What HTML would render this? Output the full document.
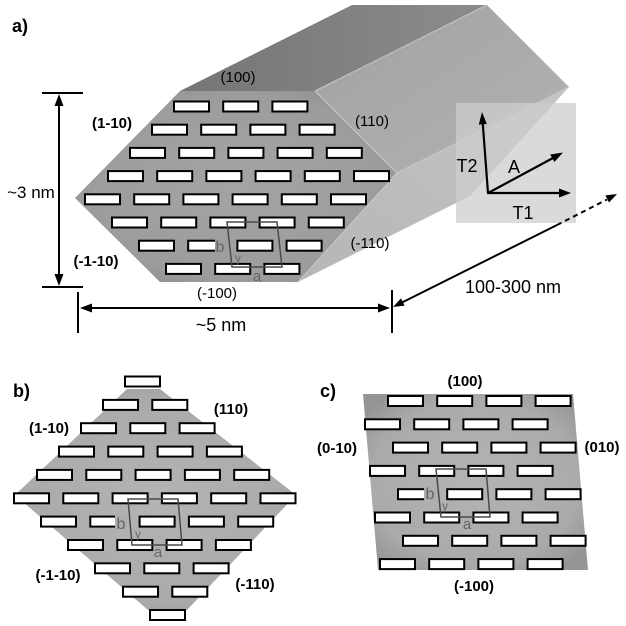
<!DOCTYPE html>
<html>
<head>
<meta charset="utf-8">
<style>
  html, body { margin: 0; padding: 0; background: #fff; }
  svg { display: block; }
  text { font-family: "Liberation Sans", Arial, sans-serif; }
</style>
</head>
<body>
<svg width="626" height="626" viewBox="0 0 626 626" xmlns="http://www.w3.org/2000/svg">
  <defs>
    <rect id="r" x="1" y="1" width="35" height="10" fill="#fff" stroke="#000" stroke-width="2"/>
    <linearGradient id="gTop" x1="0" y1="0" x2="1" y2="0">
      <stop offset="0" stop-color="#757575"/>
      <stop offset="1" stop-color="#8c8c8c"/>
    </linearGradient>
    <linearGradient id="g110" x1="0" y1="0" x2="1" y2="1">
      <stop offset="0" stop-color="#a2a2a2"/>
      <stop offset="1" stop-color="#b2b2b2"/>
    </linearGradient>
    <linearGradient id="gm110" x1="0" y1="1" x2="1" y2="0">
      <stop offset="0" stop-color="#b6b6b6"/>
      <stop offset="1" stop-color="#c4c4c4"/>
    </linearGradient>
    <radialGradient id="gFront" cx="0.5" cy="0.5" r="0.6">
      <stop offset="0" stop-color="#a4a4a4"/>
      <stop offset="0.8" stop-color="#9c9c9c"/>
      <stop offset="1" stop-color="#8e8e8e"/>
    </radialGradient>
    <radialGradient id="gPanel" cx="0.5" cy="0.5" r="0.62">
      <stop offset="0" stop-color="#b4b4b4"/>
      <stop offset="0.75" stop-color="#aaaaaa"/>
      <stop offset="1" stop-color="#959595"/>
    </radialGradient>
  </defs>

  <!-- ================= Panel a ================= -->
  <!-- prism faces -->
  <polygon points="180,91 352,5 487,5 315,91" fill="url(#gTop)"/>
  <polygon points="315,91 487,5 569,87 397,173" fill="url(#g110)"/>
  <polygon points="397,173 569,87 470,196 298,282" fill="url(#gm110)"/>
  <polygon points="180,91 315,91 397,173 298,282 160,282 75,198" fill="url(#gFront)"/>
  <g stroke="#c8c8c8" stroke-width="1" fill="none">
    <line x1="315" y1="91" x2="487" y2="5"/>
    <line x1="397" y1="173" x2="569" y2="87"/>
    <line x1="315" y1="91" x2="397" y2="173"/>
    <line x1="397" y1="173" x2="298" y2="282"/>
  </g>

  <!-- rectangles panel a -->
  <g>
    <use href="#r" x="173" y="100.5"/><use href="#r" x="222.2" y="100.5"/><use href="#r" x="271.4" y="100.5"/>
    <use href="#r" x="151" y="123.7"/><use href="#r" x="200.2" y="123.7"/><use href="#r" x="249.4" y="123.7"/><use href="#r" x="298.6" y="123.7"/>
    <use href="#r" x="129" y="146.9"/><use href="#r" x="178.2" y="146.9"/><use href="#r" x="227.4" y="146.9"/><use href="#r" x="276.6" y="146.9"/><use href="#r" x="325.8" y="146.9"/>
    <use href="#r" x="107" y="170.1"/><use href="#r" x="156.2" y="170.1"/><use href="#r" x="205.4" y="170.1"/><use href="#r" x="254.6" y="170.1"/><use href="#r" x="303.8" y="170.1"/><use href="#r" x="353" y="170.1"/>
    <use href="#r" x="84" y="193.3"/><use href="#r" x="133.2" y="193.3"/><use href="#r" x="182.4" y="193.3"/><use href="#r" x="231.6" y="193.3"/><use href="#r" x="280.8" y="193.3"/><use href="#r" x="330" y="193.3"/>
    <use href="#r" x="111" y="216.5"/><use href="#r" x="160.2" y="216.5"/><use href="#r" x="209.4" y="216.5"/><use href="#r" x="258.6" y="216.5"/><use href="#r" x="307.8" y="216.5"/>
    <use href="#r" x="138" y="239.7"/><use href="#r" x="187.2" y="239.7"/><use href="#r" x="236.4" y="239.7"/><use href="#r" x="285.6" y="239.7"/>
    <use href="#r" x="165" y="262.9"/><use href="#r" x="214.2" y="262.9"/><use href="#r" x="263.4" y="262.9"/>
  </g>
  <!-- unit cell a -->
  <rect x="215" y="239" width="11" height="14" fill="#9d9d9d"/>
  <polygon points="227,222 277,222 282,267 232,267" fill="none" stroke="#4a4a4a" stroke-width="1.5"/>
  <text x="220" y="252" font-size="16" fill="#666" text-anchor="middle">b</text>
  <text x="238" y="262" font-size="12" fill="#666" text-anchor="middle">γ</text>
  <text x="257" y="281" font-size="15" fill="#666" text-anchor="middle">a</text>

  <!-- inset box -->
  <rect x="456" y="103" width="120" height="120" fill="rgb(205,205,205)" fill-opacity="0.75"/>
  <g stroke="#000" stroke-width="2.2" fill="none" stroke-linecap="butt">
    <line x1="488" y1="193" x2="482.8" y2="124"/>
    <line x1="487" y1="193" x2="560" y2="193"/>
    <line x1="488" y1="193" x2="553" y2="158"/>
  </g>
  <g fill="#000">
    <polygon points="482,112 486.8,124 478.8,124.6"/>
    <polygon points="571,193 559,188.5 559,197.5"/>
    <polygon points="563,152.5 554.4,162 550.2,154.5"/>
  </g>
  <text x="467" y="172" font-size="18" text-anchor="middle">T2</text>
  <text x="514" y="173" font-size="18" text-anchor="middle">A</text>
  <text x="523" y="219" font-size="18" text-anchor="middle">T1</text>

  <!-- dimension ~3 nm -->
  <g stroke="#000" stroke-width="2" fill="none">
    <line x1="59" y1="102" x2="59" y2="279"/>
    <line x1="42" y1="93" x2="83" y2="93"/>
    <line x1="42" y1="287" x2="83" y2="287"/>
  </g>
  <polygon points="59,94 54.5,106 63.5,106" fill="#000"/>
  <polygon points="59,286 54.5,274 63.5,274" fill="#000"/>
  <text x="31" y="198" font-size="17" text-anchor="middle">~3 nm</text>

  <!-- dimension ~5 nm -->
  <g stroke="#000" stroke-width="2" fill="none">
    <line x1="88" y1="308" x2="382" y2="308"/>
    <line x1="78" y1="292" x2="78" y2="333"/>
    <line x1="392" y1="290" x2="392" y2="333"/>
  </g>
  <polygon points="80,308 92,303.5 92,312.5" fill="#000"/>
  <polygon points="390,308 378,303.5 378,312.5" fill="#000"/>
  <text x="221" y="331" font-size="18" text-anchor="middle">~5 nm</text>

  <!-- dimension 100-300 nm -->
  <line x1="401" y1="303" x2="557" y2="225" stroke="#000" stroke-width="2"/>
  <line x1="557" y1="225" x2="607" y2="199.5" stroke="#000" stroke-width="2" stroke-dasharray="5,4"/>
  <polygon points="393,307 404.6,305.6 401,298.4" fill="#000"/>
  <polygon points="617,194 609,202.5 605.4,195.4" fill="#000"/>
  <text x="513" y="293" font-size="18" text-anchor="middle">100-300 nm</text>

  <!-- labels panel a -->
  <text x="12" y="32" font-size="18" font-weight="bold">a)</text>
  <text x="238" y="82" font-size="15" text-anchor="middle">(100)</text>
  <text x="112" y="128" font-size="15" font-weight="bold" text-anchor="middle">(1-10)</text>
  <text x="96" y="266" font-size="15" font-weight="bold" text-anchor="middle">(-1-10)</text>
  <text x="217" y="298" font-size="15" text-anchor="middle">(-100)</text>
  <text x="372" y="126" font-size="15" text-anchor="middle">(110)</text>
  <text x="370" y="248" font-size="15" text-anchor="middle">(-110)</text>

  <!-- ================= Panel b ================= -->
  <polygon points="127,389 160,389 296,495 187,610 148,610 15,495" fill="url(#gPanel)"/>
  <g>
    <use href="#r" x="124" y="375.5"/>
    <use href="#r" x="102" y="398.9"/><use href="#r" x="151.3" y="398.9"/>
    <use href="#r" x="80" y="422.2"/><use href="#r" x="129.3" y="422.2"/><use href="#r" x="178.6" y="422.2"/>
    <use href="#r" x="58" y="445.6"/><use href="#r" x="107.3" y="445.6"/><use href="#r" x="156.6" y="445.6"/><use href="#r" x="205.9" y="445.6"/>
    <use href="#r" x="36" y="468.9"/><use href="#r" x="85.3" y="468.9"/><use href="#r" x="134.6" y="468.9"/><use href="#r" x="183.9" y="468.9"/><use href="#r" x="233.2" y="468.9"/>
    <use href="#r" x="13" y="492.3"/><use href="#r" x="62.3" y="492.3"/><use href="#r" x="111.6" y="492.3"/><use href="#r" x="160.9" y="492.3"/><use href="#r" x="210.2" y="492.3"/><use href="#r" x="259.5" y="492.3"/>
    <use href="#r" x="40" y="515.6"/><use href="#r" x="89.3" y="515.6"/><use href="#r" x="138.6" y="515.6"/><use href="#r" x="187.9" y="515.6"/><use href="#r" x="237.2" y="515.6"/>
    <use href="#r" x="67" y="539"/><use href="#r" x="116.3" y="539"/><use href="#r" x="165.6" y="539"/><use href="#r" x="214.9" y="539"/>
    <use href="#r" x="94" y="562.3"/><use href="#r" x="143.3" y="562.3"/><use href="#r" x="192.6" y="562.3"/>
    <use href="#r" x="122" y="585.7"/><use href="#r" x="171.3" y="585.7"/>
    <use href="#r" x="149" y="609"/>
  </g>
  <rect x="115" y="515" width="12" height="14" fill="#adadad"/>
  <polygon points="128,499 178,499 182,545 132,545" fill="none" stroke="#4a4a4a" stroke-width="1.5"/>
  <text x="121" y="529" font-size="16" fill="#666" text-anchor="middle">b</text>
  <text x="138" y="538" font-size="12" fill="#666" text-anchor="middle">γ</text>
  <text x="158" y="557" font-size="15" fill="#666" text-anchor="middle">a</text>

  <text x="13" y="397" font-size="18" font-weight="bold">b)</text>
  <text x="231" y="414" font-size="15" font-weight="bold" text-anchor="middle">(110)</text>
  <text x="49" y="433" font-size="15" font-weight="bold" text-anchor="middle">(1-10)</text>
  <text x="58" y="580" font-size="15" font-weight="bold" text-anchor="middle">(-1-10)</text>
  <text x="255" y="589" font-size="15" font-weight="bold" text-anchor="middle">(-110)</text>

  <!-- ================= Panel c ================= -->
  <polygon points="363,394 573,394 588,570 378,570" fill="url(#gPanel)"/>
  <g>
    <use href="#r" x="387" y="395"/><use href="#r" x="436.2" y="395"/><use href="#r" x="485.4" y="395"/><use href="#r" x="534.6" y="395"/>
    <use href="#r" x="364" y="418.3"/><use href="#r" x="413.2" y="418.3"/><use href="#r" x="462.4" y="418.3"/><use href="#r" x="511.6" y="418.3"/>
    <use href="#r" x="392" y="441.6"/><use href="#r" x="441.2" y="441.6"/><use href="#r" x="490.4" y="441.6"/><use href="#r" x="539.6" y="441.6"/>
    <use href="#r" x="369" y="464.9"/><use href="#r" x="418.2" y="464.9"/><use href="#r" x="467.4" y="464.9"/><use href="#r" x="516.6" y="464.9"/>
    <use href="#r" x="397" y="488.2"/><use href="#r" x="446.2" y="488.2"/><use href="#r" x="495.4" y="488.2"/><use href="#r" x="544.6" y="488.2"/>
    <use href="#r" x="374" y="511.5"/><use href="#r" x="423.2" y="511.5"/><use href="#r" x="472.4" y="511.5"/><use href="#r" x="521.6" y="511.5"/>
    <use href="#r" x="402" y="534.8"/><use href="#r" x="451.2" y="534.8"/><use href="#r" x="500.4" y="534.8"/><use href="#r" x="549.6" y="534.8"/>
    <use href="#r" x="379" y="558.1"/><use href="#r" x="428.2" y="558.1"/><use href="#r" x="477.4" y="558.1"/><use href="#r" x="526.6" y="558.1"/>
  </g>
  <rect x="424" y="487" width="12" height="14" fill="#adadad"/>
  <polygon points="436,469 486,469 490,517 441,517" fill="none" stroke="#4a4a4a" stroke-width="1.5"/>
  <text x="430" y="499" font-size="16" fill="#666" text-anchor="middle">b</text>
  <text x="445" y="510" font-size="12" fill="#666" text-anchor="middle">γ</text>
  <text x="467" y="529" font-size="15" fill="#666" text-anchor="middle">a</text>

  <text x="320" y="397" font-size="18" font-weight="bold">c)</text>
  <text x="465" y="386" font-size="15" font-weight="bold" text-anchor="middle">(100)</text>
  <text x="357" y="453" font-size="15" font-weight="bold" text-anchor="end">(0-10)</text>
  <text x="602" y="452" font-size="15" font-weight="bold" text-anchor="middle">(010)</text>
  <text x="474" y="591" font-size="15" font-weight="bold" text-anchor="middle">(-100)</text>
</svg>
</body>
</html>
